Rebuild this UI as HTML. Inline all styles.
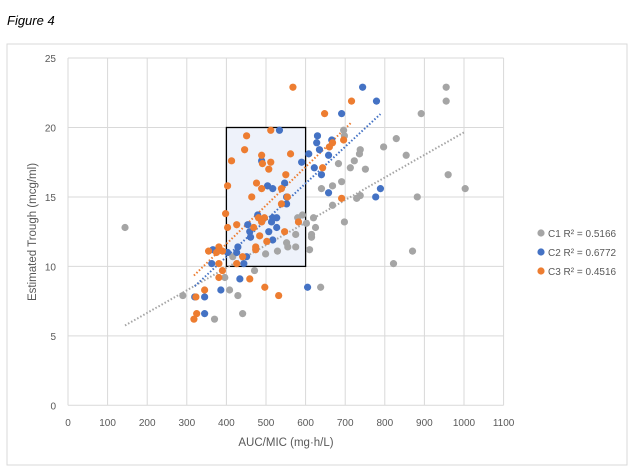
<!DOCTYPE html>
<html><head><meta charset="utf-8"><style>
body{margin:0;background:#fff;}
svg{display:block;font-family:"Liberation Sans",sans-serif;}
</style></head><body>
<svg id="chart" width="632" height="470">
<text x="7" y="25" font-size="13" font-style="italic" fill="#000">Figure 4</text>
<rect x="7" y="44" width="620" height="421" fill="#fff" stroke="#d9d9d9"/>
<g id="grid"></g>
<g id="box"></g>
<g id="trends"></g>
<g id="points"></g>
<g id="legend"></g>
<text x="286" y="446" font-size="11.5" fill="#595959" text-anchor="middle">AUC/MIC (mg·h/L)</text>
<text transform="translate(36,232) rotate(-90)" font-size="11.5" fill="#595959" text-anchor="middle">Estimated Trough (mcg/ml)</text>
</svg>
<script>
const xTicks=[0,100,200,300,400,500,600,700,800,900,1000,1100];
const yTicks=[0,5,10,15,20,25];
const seriesNames=["C1 R² = 0.5166","C2 R² = 0.6772","C3 R² = 0.4516"];
const c1x=[144,290,370,441,429,408,396,471,416,499,529,555,575,610,552,575,615,615,580,592,620,602,625,640,668,683,668,955,955,892,696,698,829,797,738,736,723,854,713,751,691,960,1003,882,738,729,698,870,822,638];
const c1y=[12.8,7.9,6.2,6.6,7.9,8.3,9.2,9.7,10.7,10.9,11.1,11.4,11.4,11.2,11.7,12.3,12.1,12.3,13.5,13.7,13.5,13.1,12.8,15.6,15.8,17.4,14.4,22.9,21.9,21.0,19.8,19.4,19.2,18.6,18.4,18.1,17.6,18.0,17.1,17.0,16.1,16.6,15.6,15.0,15.1,14.9,13.2,11.1,10.2,8.5];
const c2x=[534,630,628,666,635,658,608,590,622,640,489,547,504,517,658,552,552,479,517,527,514,489,454,527,459,507,461,517,429,426,403,366,451,363,444,434,386,345,320,345,605,744,779,691,789,777];
const c2y=[19.8,19.4,18.9,19.1,18.4,18.0,18.1,17.5,17.1,16.6,17.6,16.0,15.8,15.6,15.3,15.0,14.5,13.7,13.5,13.5,13.2,13.3,13.0,12.8,12.5,12.5,12.1,11.9,11.4,11.0,11.0,11.2,10.7,10.2,10.2,9.1,8.3,7.8,7.8,6.6,8.5,22.9,21.9,21.0,15.6,15.0];
const c3x=[568,648,512,451,446,489,491,512,413,562,507,643,668,660,550,476,403,489,539,464,554,539,398,481,496,489,582,403,426,469,547,484,502,381,355,375,390,441,474,474,426,381,390,381,459,497,532,345,323,325,318,716,696,691];
const c3y=[22.9,21.0,19.8,19.4,18.4,18.0,17.4,17.5,17.6,18.1,17.0,17.1,18.9,18.6,16.6,16.0,15.8,15.6,15.6,15.0,15.0,14.5,13.8,13.5,13.5,13.2,13.2,12.8,13.0,12.8,12.5,12.2,11.8,11.4,11.1,11.0,11.1,10.7,11.4,11.2,10.2,10.2,9.7,9.2,9.1,8.5,7.9,8.3,7.8,6.6,6.2,21.9,19.1,14.9];
const boxX=[400,600], boxY=[10,20];
const colors=["#a5a5a5","#4472c4","#ed7d31"];
const NS="http://www.w3.org/2000/svg";
const X=v=>68+v*0.3960;
const Y=v=>405.3-v*13.89;
function mk(tag,attrs,parent){const e=document.createElementNS(NS,tag);for(const k in attrs)e.setAttribute(k,attrs[k]);parent.appendChild(e);return e;}
const grid=document.getElementById('grid');
xTicks.forEach(t=>{
  const l=mk('line',{x1:X(t),x2:X(t),y1:Y(0),y2:Y(25),stroke:'#d9d9d9','stroke-width':1},grid);
  
  
  const tx=mk('text',{x:X(t),y:426,'font-size':10,fill:'#595959','text-anchor':'middle'},grid);
  tx.textContent=t;
  
  
});
yTicks.forEach(t=>{
  const l=mk('line',{x1:X(0),x2:X(1100),y1:Y(t),y2:Y(t),stroke:'#d9d9d9','stroke-width':1},grid);
  
  
  const tx=mk('text',{x:56,y:Y(t)+4,'font-size':10,fill:'#595959','text-anchor':'end'},grid);
  tx.textContent=t;
  
  
});
const bx=mk('rect',{x:X(boxX[0]),y:Y(boxY[1]),width:X(boxX[1])-X(boxX[0]),height:Y(boxY[0])-Y(boxY[1]),fill:'#eef2fa',stroke:'#000','stroke-width':1.3},document.getElementById('box'));


const series=[[c1x,c1y],[c2x,c2y],[c3x,c3y]];
const tr=document.getElementById('trends'), pts=document.getElementById('points');
series.forEach((s,i)=>{
  const xs=s[0],ys=s[1],n=xs.length;
  const mx=xs.reduce((a,b)=>a+b,0)/n,my=ys.reduce((a,b)=>a+b,0)/n;
  let sxy=0,sxx=0;for(let k=0;k<n;k++){sxy+=(xs[k]-mx)*(ys[k]-my);sxx+=(xs[k]-mx)**2;}
  const b=sxy/sxx,a=my-b*mx;
  const lo=Math.min(...xs),hi=Math.max(...xs);
  const l=mk('line',{x1:X(lo),y1:Y(a+b*lo),x2:X(hi),y2:Y(a+b*hi),stroke:colors[i],'stroke-width':2,'stroke-dasharray':'1.5 2'},tr);
  
  
});
series.forEach((s,i)=>{
  s[0].forEach((xv,k)=>{
    const c=mk('circle',{cx:X(xv),cy:Y(s[1][k]),r:3.6,fill:colors[i]},pts);
    
    
  });
});
const lg=document.getElementById('legend');
seriesNames.forEach((nm,i)=>{
  const y=233+i*19;
  const c=mk('circle',{cx:541,cy:y,r:3.6,fill:colors[i]},lg);
  
  
  const t=mk('text',{x:548,y:y+4,'font-size':10,fill:'#595959'},lg);
  t.textContent=nm;
  
  
});
</script>
</body></html>
